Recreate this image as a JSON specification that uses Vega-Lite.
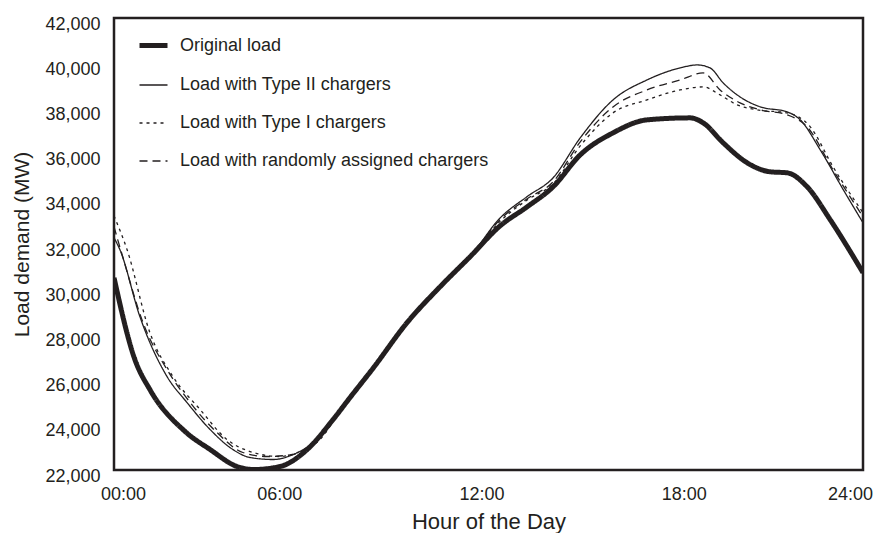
{
  "$schema": "https://vega.github.io/schema/vega-lite/v6.json",
  "autosize": {"type": "none"},
  "padding": {"left": 114, "top": 18, "right": 11, "bottom": 63},
  "width": 749,
  "height": 452,
  "background": "white",
  "config": {
    "view": {"stroke": "#231f20", "strokeWidth": 2.5},
    "axis": {"domain": false, "ticks": false, "grid": false, "labelFont": "Liberation Sans", "labelFontSize": 18, "labelColor": "#231f20", "titleColor": "#231f20", "titleFontWeight": "normal"},
    "legend": {"labelFont": "Liberation Sans", "labelFontSize": 18, "labelColor": "#231f20", "labelLimit": 0, "symbolStrokeColor": "#231f20", "symbolType": "stroke", "symbolSize": 784, "labelOffset": 10, "rowPadding": 14, "padding": 0}
  },
  "data": {"values": [
    {"s": "Original load", "h": 0, "v": 30509}, {"s": "Original load", "h": 0.67, "v": 26884}, {"s": "Original load", "h": 1.15, "v": 25558}, {"s": "Original load", "h": 2.28, "v": 23702}, {"s": "Original load", "h": 3.08, "v": 22906}, {"s": "Original load", "h": 3.94, "v": 22155}, {"s": "Original load", "h": 4.46, "v": 22022}, {"s": "Original load", "h": 5.32, "v": 22155}, {"s": "Original load", "h": 6.19, "v": 22906}, {"s": "Original load", "h": 7.02, "v": 24232}, {"s": "Original load", "h": 7.56, "v": 25200}, {"s": "Original load", "h": 8.30, "v": 26500}, {"s": "Original load", "h": 9.39, "v": 28520}, {"s": "Original load", "h": 10.45, "v": 30111}, {"s": "Original load", "h": 11.41, "v": 31437}, {"s": "Original load", "h": 12.37, "v": 32800}, {"s": "Original load", "h": 13.24, "v": 33647}, {"s": "Original load", "h": 14.07, "v": 34531}, {"s": "Original load", "h": 14.94, "v": 35945}, {"s": "Original load", "h": 15.99, "v": 36918}, {"s": "Original load", "h": 17.08, "v": 37492}, {"s": "Original load", "h": 18.46, "v": 37581}, {"s": "Original load", "h": 18.88, "v": 37360}, {"s": "Original load", "h": 19.52, "v": 36476}, {"s": "Original load", "h": 20.29, "v": 35592}, {"s": "Original load", "h": 21.03, "v": 35194}, {"s": "Original load", "h": 21.57, "v": 35150}, {"s": "Original load", "h": 22.21, "v": 34531}, {"s": "Original load", "h": 22.95, "v": 33072}, {"s": "Original load", "h": 24, "v": 30730},

    {"s": "Load with Type II chargers", "h": 0, "v": 32277}, {"s": "Load with Type II chargers", "h": 0.19, "v": 31746}, {"s": "Load with Type II chargers", "h": 0.83, "v": 28785}, {"s": "Load with Type II chargers", "h": 1.70, "v": 26133}, {"s": "Load with Type II chargers", "h": 2.34, "v": 24984}, {"s": "Load with Type II chargers", "h": 3.08, "v": 23790}, {"s": "Load with Type II chargers", "h": 3.81, "v": 22906}, {"s": "Load with Type II chargers", "h": 4.36, "v": 22553}, {"s": "Load with Type II chargers", "h": 5.10, "v": 22464}, {"s": "Load with Type II chargers", "h": 5.74, "v": 22685}, {"s": "Load with Type II chargers", "h": 6.38, "v": 23216}, {"s": "Load with Type II chargers", "h": 7.02, "v": 24232}, {"s": "Load with Type II chargers", "h": 7.56, "v": 25200}, {"s": "Load with Type II chargers", "h": 8.30, "v": 26500}, {"s": "Load with Type II chargers", "h": 9.39, "v": 28520}, {"s": "Load with Type II chargers", "h": 10.45, "v": 30111}, {"s": "Load with Type II chargers", "h": 11.41, "v": 31437}, {"s": "Load with Type II chargers", "h": 12.37, "v": 33150}, {"s": "Load with Type II chargers", "h": 13.24, "v": 34100}, {"s": "Load with Type II chargers", "h": 14.07, "v": 34929}, {"s": "Load with Type II chargers", "h": 14.94, "v": 36697}, {"s": "Load with Type II chargers", "h": 15.99, "v": 38376}, {"s": "Load with Type II chargers", "h": 17.08, "v": 39260}, {"s": "Load with Type II chargers", "h": 18.14, "v": 39791}, {"s": "Load with Type II chargers", "h": 18.69, "v": 39923}, {"s": "Load with Type II chargers", "h": 19.10, "v": 39791}, {"s": "Load with Type II chargers", "h": 19.52, "v": 39128}, {"s": "Load with Type II chargers", "h": 20.06, "v": 38509}, {"s": "Load with Type II chargers", "h": 20.71, "v": 38067}, {"s": "Load with Type II chargers", "h": 21.57, "v": 37846}, {"s": "Load with Type II chargers", "h": 21.99, "v": 37492}, {"s": "Load with Type II chargers", "h": 22.63, "v": 36166}, {"s": "Load with Type II chargers", "h": 23.37, "v": 34398}, {"s": "Load with Type II chargers", "h": 24, "v": 32940},

    {"s": "Load with Type I chargers", "h": 0, "v": 33249}, {"s": "Load with Type I chargers", "h": 0.42, "v": 31746}, {"s": "Load with Type I chargers", "h": 1.15, "v": 28078}, {"s": "Load with Type I chargers", "h": 1.89, "v": 26133}, {"s": "Load with Type I chargers", "h": 2.76, "v": 24674}, {"s": "Load with Type I chargers", "h": 3.62, "v": 23348}, {"s": "Load with Type I chargers", "h": 4.36, "v": 22818}, {"s": "Load with Type I chargers", "h": 5.32, "v": 22597}, {"s": "Load with Type I chargers", "h": 5.96, "v": 22818}, {"s": "Load with Type I chargers", "h": 6.60, "v": 23348}, {"s": "Load with Type I chargers", "h": 7.24, "v": 24600}, {"s": "Load with Type I chargers", "h": 7.56, "v": 25200}, {"s": "Load with Type I chargers", "h": 8.30, "v": 26500}, {"s": "Load with Type I chargers", "h": 9.39, "v": 28520}, {"s": "Load with Type I chargers", "h": 10.45, "v": 30111}, {"s": "Load with Type I chargers", "h": 11.41, "v": 31437}, {"s": "Load with Type I chargers", "h": 12.37, "v": 33000}, {"s": "Load with Type I chargers", "h": 13.24, "v": 33950}, {"s": "Load with Type I chargers", "h": 14.07, "v": 34663}, {"s": "Load with Type I chargers", "h": 14.94, "v": 36343}, {"s": "Load with Type I chargers", "h": 15.99, "v": 37802}, {"s": "Load with Type I chargers", "h": 17.08, "v": 38376}, {"s": "Load with Type I chargers", "h": 18.14, "v": 38818}, {"s": "Load with Type I chargers", "h": 18.88, "v": 38951}, {"s": "Load with Type I chargers", "h": 19.42, "v": 38597}, {"s": "Load with Type I chargers", "h": 19.97, "v": 38155}, {"s": "Load with Type I chargers", "h": 20.61, "v": 37934}, {"s": "Load with Type I chargers", "h": 21.57, "v": 37802}, {"s": "Load with Type I chargers", "h": 22.31, "v": 37183}, {"s": "Load with Type I chargers", "h": 23.04, "v": 35415}, {"s": "Load with Type I chargers", "h": 24, "v": 33382},

    {"s": "Load with randomly assigned chargers", "h": 0, "v": 32763}, {"s": "Load with randomly assigned chargers", "h": 0.26, "v": 31525}, {"s": "Load with randomly assigned chargers", "h": 0.93, "v": 28520}, {"s": "Load with randomly assigned chargers", "h": 1.70, "v": 26442}, {"s": "Load with randomly assigned chargers", "h": 2.44, "v": 24984}, {"s": "Load with randomly assigned chargers", "h": 3.30, "v": 23658}, {"s": "Load with randomly assigned chargers", "h": 4.13, "v": 22774}, {"s": "Load with randomly assigned chargers", "h": 4.90, "v": 22597}, {"s": "Load with randomly assigned chargers", "h": 5.74, "v": 22685}, {"s": "Load with randomly assigned chargers", "h": 6.38, "v": 23216}, {"s": "Load with randomly assigned chargers", "h": 7.02, "v": 24232}, {"s": "Load with randomly assigned chargers", "h": 7.56, "v": 25200}, {"s": "Load with randomly assigned chargers", "h": 8.30, "v": 26500}, {"s": "Load with randomly assigned chargers", "h": 9.39, "v": 28520}, {"s": "Load with randomly assigned chargers", "h": 10.45, "v": 30111}, {"s": "Load with randomly assigned chargers", "h": 11.41, "v": 31437}, {"s": "Load with randomly assigned chargers", "h": 12.37, "v": 33080}, {"s": "Load with randomly assigned chargers", "h": 13.24, "v": 34000}, {"s": "Load with randomly assigned chargers", "h": 14.07, "v": 34752}, {"s": "Load with randomly assigned chargers", "h": 14.94, "v": 36520}, {"s": "Load with randomly assigned chargers", "h": 15.99, "v": 38067}, {"s": "Load with randomly assigned chargers", "h": 17.08, "v": 38818}, {"s": "Load with randomly assigned chargers", "h": 18.14, "v": 39260}, {"s": "Load with randomly assigned chargers", "h": 18.88, "v": 39570}, {"s": "Load with randomly assigned chargers", "h": 19.42, "v": 38818}, {"s": "Load with randomly assigned chargers", "h": 20.06, "v": 38244}, {"s": "Load with randomly assigned chargers", "h": 20.71, "v": 37934}, {"s": "Load with randomly assigned chargers", "h": 21.57, "v": 37713}, {"s": "Load with randomly assigned chargers", "h": 22.21, "v": 37183}, {"s": "Load with randomly assigned chargers", "h": 23.04, "v": 35282}, {"s": "Load with randomly assigned chargers", "h": 24, "v": 33205}
  ]},
  "encoding": {
    "x": {"field": "h", "type": "quantitative", "scale": {"domain": [0, 24], "nice": false, "zero": false},
      "axis": {"values": [0, 6, 12, 18, 24], "labelExpr": "(datum.value < 10 ? '0' : '') + datum.value + ':00'", "labelPadding": 15, "labelFlush": false,
        "labelOffset": {"condition": [{"test": "datum.value == 0", "value": 9}, {"test": "datum.value == 6", "value": -22}, {"test": "datum.value == 12", "value": -7}, {"test": "datum.value == 18", "value": 8}, {"test": "datum.value == 24", "value": -13}], "value": 0},
        "title": "Hour of the Day", "titleFont": "Liberation Sans", "titleFontSize": 22, "titlePadding": 8}},
    "y": {"field": "v", "type": "quantitative", "scale": {"domain": [22000, 42000], "nice": false, "zero": false},
      "axis": {"values": [22000, 24000, 26000, 28000, 30000, 32000, 34000, 36000, 38000, 40000, 42000], "format": ",d", "labelPadding": 14, "labelOffset": 6, "labelFlush": false,
        "title": "Load demand (MW)", "titleFont": "Liberation Sans", "titleFontSize": 21, "titlePadding": 12}},
    "strokeDash": {"field": "s", "type": "nominal",
      "scale": {"domain": ["Original load", "Load with Type II chargers", "Load with Type I chargers", "Load with randomly assigned chargers"], "range": [[1, 0], [1, 0], [3, 4], [8, 5]]},
      "legend": {"title": null, "orient": "none", "legendX": 23, "legendY": 11}},
    "strokeWidth": {"field": "s", "type": "nominal",
      "scale": {"type": "ordinal", "domain": ["Original load", "Load with Type II chargers", "Load with Type I chargers", "Load with randomly assigned chargers"], "range": [5, 1.3, 1.3, 1.3]},
      "legend": {"title": null, "orient": "none", "legendX": 23, "legendY": 11}}
  },
  "layer": [
    {"transform": [{"filter": "datum.s != 'Original load'"}], "mark": {"type": "line", "interpolate": "monotone", "color": "#231f20", "clip": true}},
    {"transform": [{"filter": "datum.s == 'Original load'"}], "mark": {"type": "line", "interpolate": "monotone", "color": "#231f20", "clip": true}}
  ]
}
